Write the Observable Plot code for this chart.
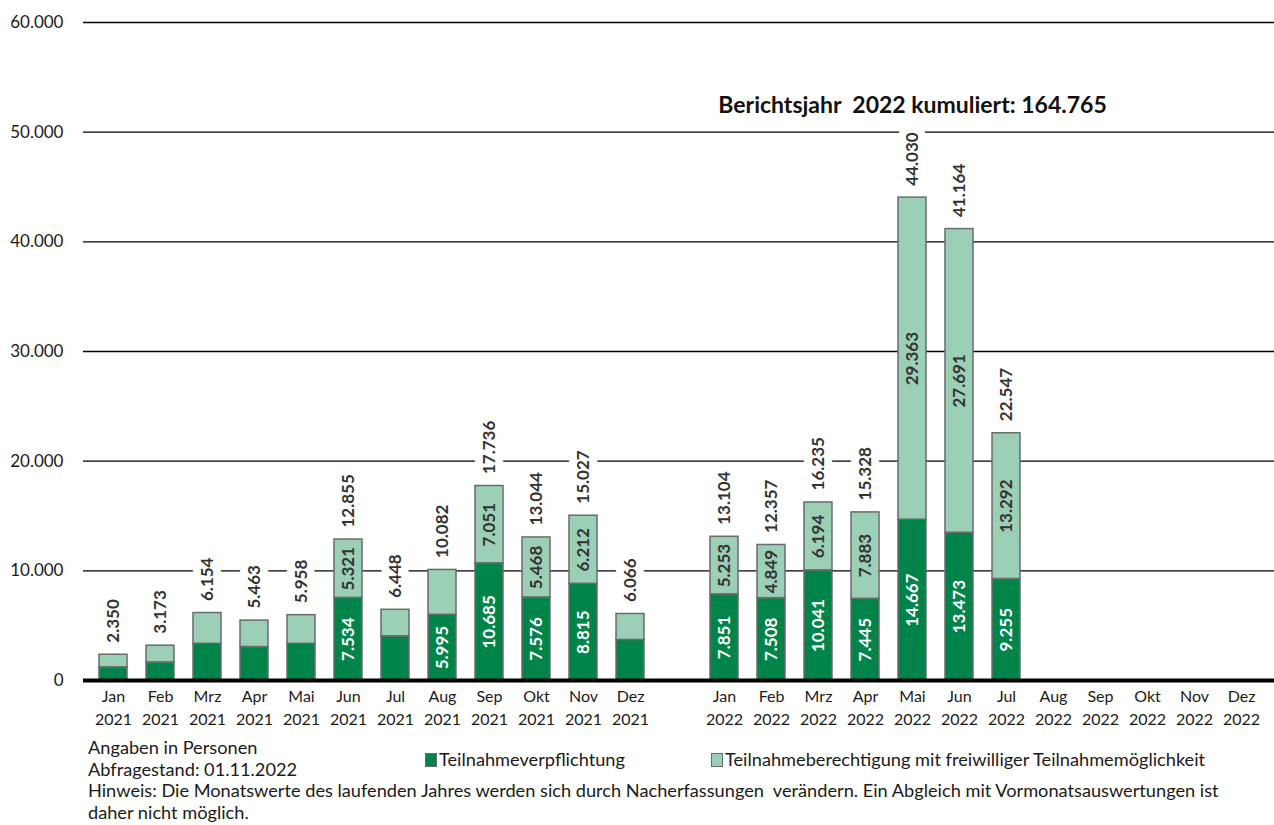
<!DOCTYPE html>
<html>
<head>
<meta charset="utf-8">
<script src="https://cdn.jsdelivr.net/npm/d3@7"></script>
<script src="https://cdn.jsdelivr.net/npm/@observablehq/plot@0.6"></script>
<style>
  body { margin: 0; background: #fff; }
  #wrap { position: relative; width: 1274px; height: 825px; font-family: Lato, "Open Sans", sans-serif; color: #1a1a1a; }
  #footer div { position: absolute; font-size: 18.2px; line-height: 22px; white-space: nowrap; }
  .sw { display: inline-block; width: 10px; height: 12px; border: 1px solid #6b6b6b; vertical-align: -1px; margin-right: 2px; }
</style>
</head>
<body>
<div id="wrap">
  <div id="chart"></div>
  <div id="footer"></div>
</div>
<script>
// ---- data ----
const months = ["Jan","Feb","Mrz","Apr","Mai","Jun","Jul","Aug","Sep","Okt","Nov","Dez"];
const years = ["2021", "2022"];
// Teilnahmeverpflichtung (dark), values without printed label are estimated from the picture
const pflicht2021 = [1200, 1650, 3350, 3050, 3350, 7534, 4030, 5995, 10685, 7576, 8815, 3700];
const total2021   = [2350, 3173, 6154, 5463, 5958, 12855, 6448, 10082, 17736, 13044, 15027, 6066];
const pflicht2022 = [7851, 7508, 10041, 7445, 14667, 13473, 9255, null, null, null, null, null];
const total2022   = [13104, 12357, 16235, 15328, 44030, 41164, 22547, null, null, null, null, null];
// which segment values are printed inside the bars
const labelPflicht2021 = ["Jun","Aug","Sep","Okt","Nov"];
const labelFrei2021    = ["Jun","Sep","Okt","Nov"];
const yTicks = [0, 10000, 20000, 30000, 40000, 50000, 60000];
const seriesNames = ["Teilnahmeverpflichtung", "Teilnahmeberechtigung mit freiwilliger Teilnahmemöglichkeit"];
const colors = ["#00844a", "#9bcfb6"];
const titleText = "Berichtsjahr  2022 kumuliert: 164.765";
const titleAnchor = {key: "Mai 2022", value: 52400};

// ---- build table ----
const fmt = d3.formatLocale({decimal: ",", thousands: ".", grouping: [3], currency: ["", "€"]}).format(",d");
const rows = [];
months.forEach((m, i) => rows.push({
  key: `${m} 2021`, pflicht: pflicht2021[i], total: total2021[i],
  showP: labelPflicht2021.includes(m), showF: labelFrei2021.includes(m)
}));
months.forEach((m, i) => rows.push({
  key: `${m} 2022`, pflicht: pflicht2022[i], total: total2022[i],
  showP: pflicht2022[i] != null, showF: total2022[i] != null
}));
rows.forEach(r => r.frei = r.total == null ? null : r.total - r.pflicht);
const domain = [...months.map(m => `${m} 2021`), "gap", ...months.map(m => `${m} 2022`)];

const chart = Plot.plot({
  width: 1274,
  height: 735,
  marginLeft: 80,
  marginRight: 0,
  marginTop: 22,
  marginBottom: 55,
  style: {fontFamily: "Lato, 'Open Sans', sans-serif", background: "white", color: "#1a1a1a"},
  x: {type: "band", domain, paddingInner: 0.41, paddingOuter: 0.205, axis: null, label: null},
  y: {domain: [0, 60000], axis: null, label: null},
  marks: [
    Plot.ruleY(yTicks.filter(d => d > 0), {stroke: "#000", strokeWidth: 1.3, insetLeft: 3}),
    Plot.barY(rows, {x: "key", y1: 0, y2: "pflicht", fill: colors[0], stroke: "#6b6b6b", strokeWidth: 1.5}),
    Plot.barY(rows, {x: "key", y1: "pflicht", y2: "total", fill: colors[1], stroke: "#6b6b6b", strokeWidth: 1.5}),
    Plot.ruleY([0], {stroke: "#000", strokeWidth: 4, insetLeft: 3}),
    Plot.axisY(yTicks, {tickSize: 0, tickPadding: 17, tickFormat: fmt, fontSize: 17, fill: "#1a1a1a", label: null}),
    Plot.axisX({tickSize: 0, tickPadding: 5, fontSize: 16, lineHeight: 1.44, fill: "#1a1a1a", label: null,
      tickFormat: d => d === "gap" ? "" : d.replace(" ", "\n")}),
    Plot.text(rows, {x: "key", y: d => d.pflicht / 2, text: d => d.showP ? fmt(d.pflicht) : null,
      rotate: -90, fill: "white", fontWeight: "bold", fontSize: 17}),
    Plot.text(rows, {x: "key", y: d => d.pflicht + d.frei / 2, text: d => d.showF ? fmt(d.frei) : null,
      rotate: -90, fill: "#333", fontWeight: "bold", fontSize: 17}),
    Plot.text(rows, {x: "key", y: "total", text: d => d.total == null ? null : fmt(d.total),
      rotate: -90, textAnchor: "start", dy: -12, fill: "#333", fontWeight: "bold", fontSize: 17,
      stroke: "white", strokeWidth: 16, paintOrder: "stroke"}),
    Plot.text([titleAnchor], {x: "key", y: "value", text: () => titleText, fontWeight: "bold",
      fontSize: 23, fill: "#111"})
  ]
});
document.getElementById("chart").appendChild(chart);

// ---- footer / legend ----
const footer = document.getElementById("footer");
footer.innerHTML = `
  <div style="left:88px; top:736px;">Angaben in Personen</div>
  <div style="left:88px; top:758px;">Abfragestand: 01.11.2022</div>
  <div style="left:425px; top:748px;"><span class="sw" style="background:${colors[0]}"></span>${seriesNames[0]}</div>
  <div style="left:711px; top:748px;"><span class="sw" style="background:${colors[1]}"></span>${seriesNames[1]}</div>
  <div style="left:88px; top:779px;">Hinweis: Die Monatswerte des laufenden Jahres werden sich durch Nacherfassungen&nbsp; verändern. Ein Abgleich mit Vormonatsauswertungen ist</div>
  <div style="left:88px; top:801px;">daher nicht möglich.</div>`;
</script>
</body>
</html>
